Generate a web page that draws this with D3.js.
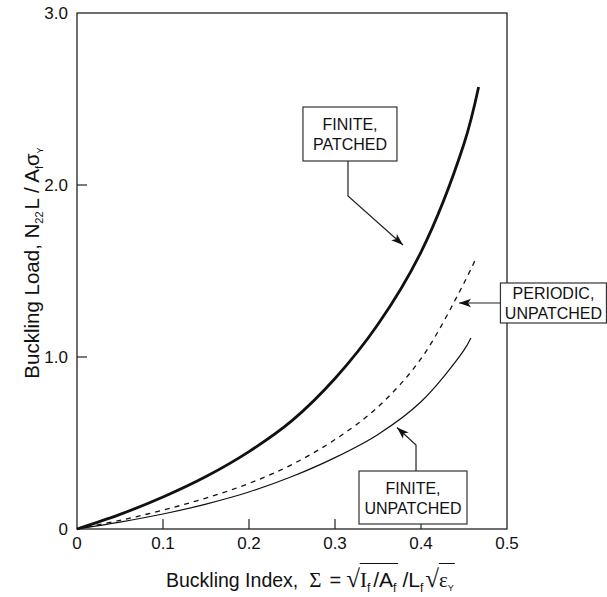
<!DOCTYPE html>
<html><head><meta charset="utf-8">
<script src="https://cdn.jsdelivr.net/npm/d3@7"></script>
<style>body{margin:0;background:#fff}svg{display:block}</style>
</head><body>
<script>
// ---- data ----
const xTicks = [0, 0.1, 0.2, 0.3, 0.4, 0.5];
const xTickLabels = ["0", "0.1", "0.2", "0.3", "0.4", "0.5"];
const yTicks = [0, 1, 2, 3];
const yTickLabels = ["0", "1.0", "2.0", "3.0"];

const finitePatchedX = [0, 0.05, 0.1, 0.15, 0.2, 0.25, 0.3, 0.35, 0.4, 0.45, 0.467];
const finitePatchedY = [0, 0.085, 0.186, 0.305, 0.45, 0.63, 0.875, 1.19, 1.61, 2.24, 2.57];

const periodicX = [0, 0.05, 0.1, 0.15, 0.2, 0.25, 0.3, 0.35, 0.4, 0.45, 0.464];
const periodicY = [0, 0.05, 0.11, 0.18, 0.265, 0.375, 0.52, 0.71, 0.99, 1.43, 1.575];

const finiteUnpatchedX = [0, 0.05, 0.1, 0.15, 0.2, 0.25, 0.3, 0.35, 0.4, 0.45, 0.458];
const finiteUnpatchedY = [0, 0.04, 0.087, 0.145, 0.215, 0.305, 0.415, 0.55, 0.74, 1.04, 1.11];

const noteLines = [["FINITE,", "PATCHED"], ["PERIODIC,", "UNPATCHED"], ["FINITE,", "UNPATCHED"]];
const noteBoxCenters = [[0.3174, 2.2965], [0.554, 1.314], [0.3907, 0.1831]];
const noteLeaders = [
  [[0.3151, 2.1395], [0.3151, 1.936], [0.3791, 1.651]],
  [[0.493, 1.314], [0.4442, 1.314]],
  [[0.3942, 0.3372], [0.3942, 0.4884], [0.3721, 0.590]]
];

// ---- layout ----
const W = 607, H = 597;
const SANS = "'Liberation Sans', Arial, Helvetica, sans-serif";
const SERIF = "'Liberation Serif', 'Times New Roman', serif";
const INK = "#111";

const x = d3.scaleLinear().domain([0, 0.5]).range([77, 507]);
const y = d3.scaleLinear().domain([0, 3]).range([529, 13]);

const svg = d3.select("body").append("svg").attr("width", W).attr("height", H)
  .style("font-family", SANS);

// frame
svg.append("rect").attr("x", x(0)).attr("y", y(3))
  .attr("width", x(0.5) - x(0)).attr("height", y(0) - y(3))
  .attr("fill", "none").attr("stroke", "#222").attr("stroke-width", 1.3);

// inward ticks
svg.append("g").selectAll("line").data(xTicks.slice(1, -1)).join("line")
  .attr("x1", d => x(d)).attr("x2", d => x(d))
  .attr("y1", y(0)).attr("y2", y(0) - 10)
  .attr("stroke", "#222").attr("stroke-width", 1.2);
svg.append("g").selectAll("line").data(yTicks.slice(1, -1)).join("line")
  .attr("x1", x(0)).attr("x2", x(0) + 10)
  .attr("y1", d => y(d)).attr("y2", d => y(d))
  .attr("stroke", "#222").attr("stroke-width", 1.2);

// tick labels
svg.append("g").selectAll("text").data(xTicks).join("text")
  .attr("x", d => x(d)).attr("y", y(0) + 20)
  .attr("text-anchor", "middle").attr("font-size", 17).attr("fill", INK)
  .text((d, i) => xTickLabels[i]);
svg.append("g").selectAll("text").data(yTicks).join("text")
  .attr("x", x(0) - 9).attr("y", d => y(d) + 6)
  .attr("text-anchor", "end").attr("font-size", 17).attr("fill", INK)
  .text((d, i) => yTickLabels[i]);

// curves
function series(xs, ys) { return xs.map((v, i) => [v, ys[i]]); }
const line = d3.line().x(d => x(d[0])).y(d => y(d[1])).curve(d3.curveCatmullRom.alpha(0.5));
svg.append("path").datum(series(finiteUnpatchedX, finiteUnpatchedY))
  .attr("d", line).attr("fill", "none").attr("stroke", INK).attr("stroke-width", 1.2);
svg.append("path").datum(series(periodicX, periodicY))
  .attr("d", line).attr("fill", "none").attr("stroke", INK).attr("stroke-width", 1.3)
  .attr("stroke-dasharray", "5,5");
svg.append("path").datum(series(finitePatchedX, finitePatchedY))
  .attr("d", line).attr("fill", "none").attr("stroke", INK).attr("stroke-width", 2.8);

// annotations
const boxSizes = [[94, 54], [106, 40], [108, 53]];
noteLines.forEach((lines, i) => {
  const g = svg.append("g");
  const cx = x(noteBoxCenters[i][0]), cy = y(noteBoxCenters[i][1]);
  const [bw, bh] = boxSizes[i];
  g.append("rect").attr("x", cx - bw / 2).attr("y", cy - bh / 2)
    .attr("width", bw).attr("height", bh)
    .attr("fill", "#fff").attr("stroke", "#333").attr("stroke-width", 1.2);
  lines.forEach((t, j) => {
    g.append("text").attr("x", cx).attr("y", cy + (j - 0.5) * 20 + 6)
      .attr("text-anchor", "middle").attr("font-size", 16).attr("fill", INK).text(t);
  });
  const pts = noteLeaders[i].map(p => [x(p[0]), y(p[1])]);
  g.append("path").attr("d", d3.line()(pts)).attr("fill", "none")
    .attr("stroke", "#222").attr("stroke-width", 1.2);
  const tip = pts[pts.length - 1], prev = pts[pts.length - 2];
  const ang = Math.atan2(tip[1] - prev[1], tip[0] - prev[0]);
  const L = 12, Wd = 4.2, N = 9;
  const rot = (dx, dy) => [tip[0] + dx * Math.cos(ang) - dy * Math.sin(ang), tip[1] + dx * Math.sin(ang) + dy * Math.cos(ang)];
  const head = [rot(0, 0), rot(-L, -Wd), rot(-N, 0), rot(-L, Wd)];
  g.append("path").attr("d", "M" + head.join("L") + "Z").attr("fill", "#111");
});

// rich text helper
function rich(parent, segs, base) {
  const t = parent.append("text").attr("fill", INK);
  segs.forEach(s => {
    const ts = t.append("tspan").text(s.t)
      .style("font-family", s.f || SANS).style("font-size", (s.s || base) + "px");
    if (s.dx) ts.attr("dx", s.dx);
    if (s.dy) ts.attr("dy", s.dy);
    s.node = ts.node();
  });
  return t;
}

// x-axis label
const xl = svg.append("g").attr("transform", "translate(166,587)");
const xs = [
  { t: "Buckling Index," },
  { t: "Σ", f: SERIF, s: 21, dx: 11 },
  { t: "=", s: 20, dx: 8 },
  { t: "√", f: SERIF, s: 25, dx: 5 },
  { t: "I", f: SERIF, s: 21 },
  { t: "f", s: 12, dy: 5 },
  { t: "/A", s: 21, dx: 3, dy: -5 },
  { t: "f", s: 12, dy: 5 },
  { t: "/L", s: 21, dx: 6, dy: -5 },
  { t: "f", s: 12, dy: 5 },
  { t: "√", f: SERIF, s: 25, dx: 2, dy: -5 },
  { t: "ε", f: SERIF, s: 21 },
  { t: "Y", s: 9, dy: 4 }
];
rich(xl, xs, 19.5);
function bb(n) { return n.getBBox(); }
const r1 = bb(xs[3].node), e1 = bb(xs[7].node);
const r2 = bb(xs[10].node), e2 = bb(xs[12].node);
xl.append("line").attr("x1", r1.x + r1.width - 0.5).attr("x2", e1.x + e1.width + 1)
  .attr("y1", -23.5).attr("y2", -23.5).attr("stroke", INK).attr("stroke-width", 1);
xl.append("line").attr("x1", r2.x + r2.width - 0.5).attr("x2", e2.x + e2.width + 1)
  .attr("y1", -23.5).attr("y2", -23.5).attr("stroke", INK).attr("stroke-width", 1);

// y-axis label
const yl = svg.append("g").attr("transform", "translate(39,263) rotate(-90)");
const ysg = [
  { t: "Buckling Load, N" },
  { t: "22", s: 11, dy: 4 },
  { t: "L / A", dx: 2, dy: -4 },
  { t: "f", s: 11, dy: 4 },
  { t: "σ", dy: -4 },
  { t: "Y", s: 9, dy: 4 }
];
rich(yl, ysg, 20.5).attr("text-anchor", "middle");
</script>
</body></html>
